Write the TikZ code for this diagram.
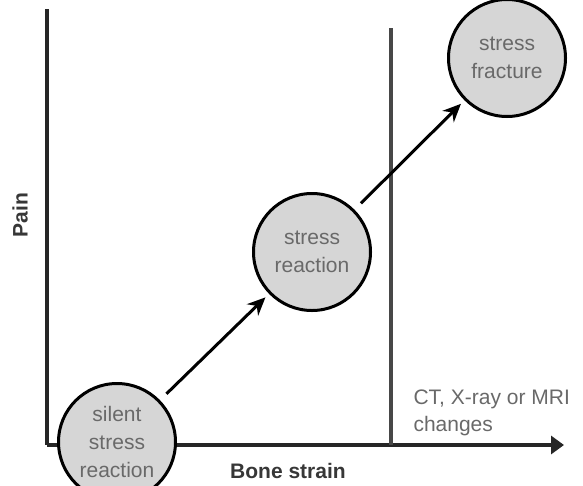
\documentclass[tikz,border=0pt]{standalone}
\usepackage{fontspec}
\setmainfont{Liberation Sans}
\usetikzlibrary{arrows.meta}
\definecolor{discfill}{RGB}{214,214,214}
\definecolor{disctext}{RGB}{105,105,105}
\definecolor{axisline}{RGB}{38,38,38}
\definecolor{labeltext}{RGB}{55,55,55}

\begin{document}
\begin{tikzpicture}[x=1pt,y=-1pt,
  stage/.style={circle,draw=black,line width=3pt,fill=discfill,minimum size=117pt,
    inner sep=0pt,align=center,text=disctext,font=\fontsize{21}{28}\selectfont},
  axis/.style={axisline,line width=3.6pt},
  flow/.style={-{Stealth[length=18pt,width=16pt]},line width=3pt,shorten <=9pt,shorten >=5pt},
  axislabel/.style={text=labeltext,font=\fontsize{21}{24}\selectfont\bfseries}]
  \useasboundingbox (0,0) rectangle (583,485);
  \clip (0,0) rectangle (583,485);
  \coordinate (origin) at (47,445);
  \coordinate (ytop) at (47,9);
  \coordinate (xtip) at (564,445);
  \coordinate (ctbase) at (391,445);
  \coordinate (cttop) at (391,28);
  \draw[axis] (ytop) -- (origin);
  \draw[axis,-{Triangle[length=13pt,width=18pt]}] (origin) -- (xtip);
  \draw[axis,black!72] (ctbase) -- (cttop);
  \node[stage] (silent) at (117,442) {silent\\stress\\reaction};
  \node[stage] (reaction) at (312,252) {stress\\reaction};
  \node[stage] (fracture) at (507,58) {stress\\fracture};
  \draw[flow] (silent) -- (reaction);
  \draw[flow] (reaction) -- (fracture);
  \node[axislabel] (strain) at (288,471) {Bone strain};
  \node[axislabel,rotate=90] (pain) at (20,215) {Pain};
  \node[anchor=west,align=left,text=disctext,font=\fontsize{21}{27}\selectfont] (imaging) at (410,413) {CT, X-ray or MRI\\changes};
\end{tikzpicture}
\end{document}
